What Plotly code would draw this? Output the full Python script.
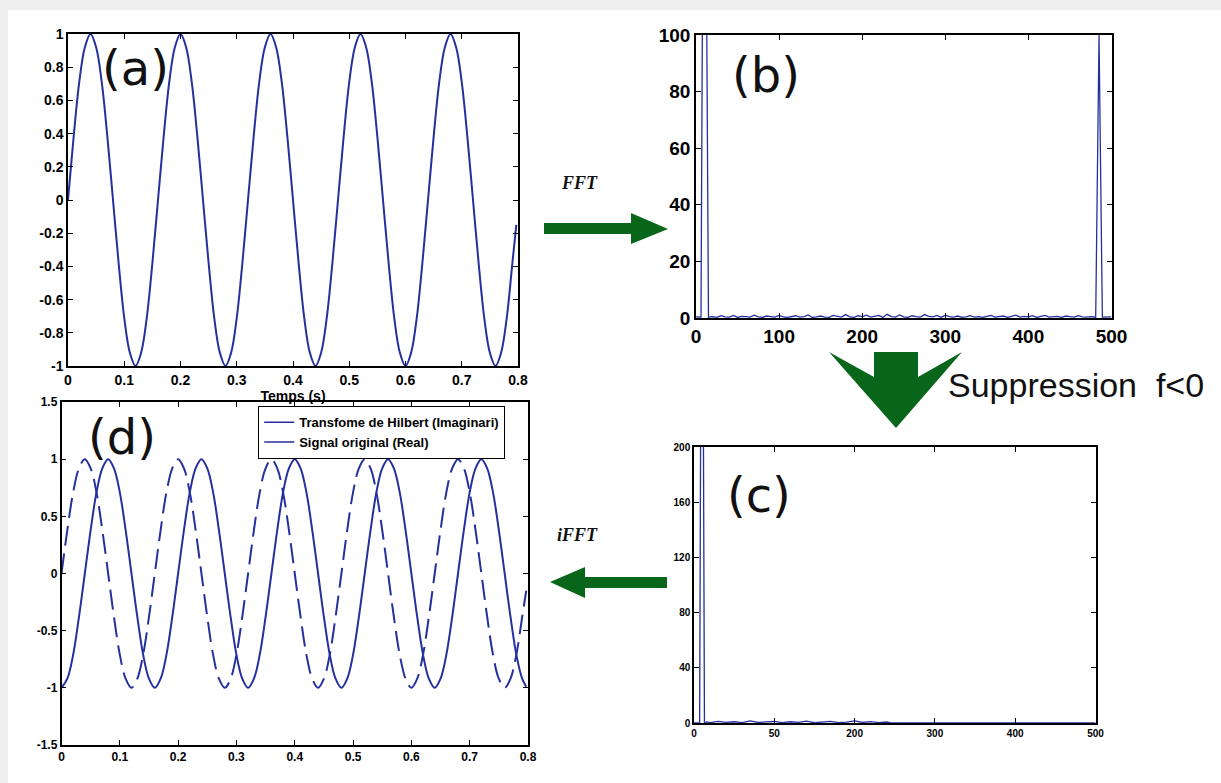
import plotly.graph_objects as go

W, H = 1221, 783

def px(x):
    return x / W

def py(y):
    return 1 - y / H

# ---------------- data ----------------
# time grid (s)
t = [0.00, 0.01, 0.02, 0.03, 0.04, 0.05, 0.06, 0.07, 0.08, 0.09,
     0.10, 0.11, 0.12, 0.13, 0.14, 0.15, 0.16, 0.17, 0.18, 0.19,
     0.20, 0.21, 0.22, 0.23, 0.24, 0.25, 0.26, 0.27, 0.28, 0.29,
     0.30, 0.31, 0.32, 0.33, 0.34, 0.35, 0.36, 0.37, 0.38, 0.39,
     0.40, 0.41, 0.42, 0.43, 0.44, 0.45, 0.46, 0.47, 0.48, 0.49,
     0.50, 0.51, 0.52, 0.53, 0.54, 0.55, 0.56, 0.57, 0.58, 0.59,
     0.60, 0.61, 0.62, 0.63, 0.64, 0.65, 0.66, 0.67, 0.68, 0.69,
     0.70, 0.71, 0.72, 0.73, 0.74, 0.75, 0.76, 0.77, 0.78, 0.79, 0.797]

# (a) original signal
signal_a = [0, 0.38, 0.71, 0.92, 1, 0.92, 0.71, 0.38, 0, -0.38, -0.71, -0.92, -1, -0.92, -0.71, -0.38,
            0, 0.38, 0.71, 0.92, 1, 0.92, 0.71, 0.38, 0, -0.38, -0.71, -0.92, -1, -0.92, -0.71, -0.38,
            0, 0.38, 0.71, 0.92, 1, 0.92, 0.71, 0.38, 0, -0.38, -0.71, -0.92, -1, -0.92, -0.71, -0.38,
            0, 0.38, 0.71, 0.92, 1, 0.92, 0.71, 0.38, 0, -0.38, -0.71, -0.92, -1, -0.92, -0.71, -0.38,
            0, 0.38, 0.71, 0.92, 1, 0.92, 0.71, 0.38, 0, -0.38, -0.71, -0.92, -1, -0.92, -0.71, -0.38,
            -0.15]

# (d) Hilbert transform (imaginary part) and original (real part)
hilbert_d = [-1, -0.92, -0.71, -0.38, 0, 0.38, 0.71, 0.92, 1, 0.92, 0.71, 0.38, 0, -0.38, -0.71, -0.92,
             -1, -0.92, -0.71, -0.38, 0, 0.38, 0.71, 0.92, 1, 0.92, 0.71, 0.38, 0, -0.38, -0.71, -0.92,
             -1, -0.92, -0.71, -0.38, 0, 0.38, 0.71, 0.92, 1, 0.92, 0.71, 0.38, 0, -0.38, -0.71, -0.92,
             -1, -0.92, -0.71, -0.38, 0, 0.38, 0.71, 0.92, 1, 0.92, 0.71, 0.38, 0, -0.38, -0.71, -0.92,
             -1, -0.92, -0.71, -0.38, 0, 0.38, 0.71, 0.92, 1, 0.92, 0.71, 0.38, 0, -0.38, -0.71, -0.92,
             -0.99]
real_d = signal_a

# (b) FFT magnitude
fft_head_x = [0, 3, 6, 10, 15]
fft_head_y = [0.4, 0.4, 0.3, 250, 0.3]
fft_noise_x = list(range(20, 480, 5))          # 20 ... 475 (92 samples)
fft_noise_y = [0.5, 0.2, 0.8, 0.4, 0.3, 0.9, 0.2, 0.6, 0.5, 0.3,
               1.0, 0.4, 0.2, 0.7, 0.5, 0.3, 0.9, 0.4, 0.2, 0.6,
               0.8, 0.3, 0.5, 1.1, 0.2, 0.4, 0.7, 0.3, 0.2, 0.9,
               0.5, 0.3, 1.2, 0.4, 0.2, 0.8, 0.5, 1.0, 0.3, 0.6,
               0.9, 0.2, 1.3, 0.5, 0.3, 1.1, 0.4, 0.2, 0.8, 0.5,
               0.3, 1.2, 0.6, 0.4, 0.9, 0.2, 1.0, 0.5, 0.3, 0.7,
               0.2, 0.4, 0.8, 0.3, 0.5, 0.2, 0.6, 0.9, 0.3, 0.4,
               0.7, 0.2, 0.5, 1.0, 0.3, 0.6, 0.4, 0.8, 0.2, 0.5,
               0.9, 0.3, 0.4, 0.6, 0.2, 0.7, 0.5, 0.3, 0.8, 0.4,
               0.3, 0.5]
fft_tail_x = [481, 485, 489, 493, 497, 500]
fft_tail_y = [0.3, 100, 0.3, 0.4, 0.3, 0.4]
fft_x = fft_head_x + fft_noise_x + fft_tail_x
fft_y = fft_head_y + fft_noise_y + fft_tail_y

# (c) FFT after suppression of negative frequencies
sup_x = [0, 4, 7, 10, 13, 16, 20, 30, 40, 50, 60, 70, 80, 90, 100, 110, 120, 130, 140, 150,
         160, 170, 180, 190, 200, 210, 220, 230, 240, 245, 300, 400, 500]
sup_y = [0, 0, 0, 500, 0, 0.8, 0.3, 1.2, 0.5, 0.9, 0.3, 1.5, 0.4, 0.8, 1.1, 0.3, 0.9, 0.5, 1.4,
         0.2, 0.8, 1.2, 0.3, 0.6, 1.5, 0.4, 1.0, 0.3, 0.7, 0, 0, 0, 0]

# tick values / labels
a_xticks = [0, 0.1, 0.2, 0.3, 0.4, 0.5, 0.6, 0.7, 0.8]
a_xlabels = ["0", "0.1", "0.2", "0.3", "0.4", "0.5", "0.6", "0.7", "0.8"]
a_yticks = [-1, -0.8, -0.6, -0.4, -0.2, 0, 0.2, 0.4, 0.6, 0.8, 1]
a_ylabels = ["-1", "-0.8", "-0.6", "-0.4", "-0.2", "0", "0.2", "0.4", "0.6", "0.8", "1"]
b_xticks = [0, 100, 200, 300, 400, 500]
b_xlabels = ["0", "100", "200", "300", "400", "500"]
b_yticks = [0, 20, 40, 60, 80, 100]
c_xticks = [0, 100, 200, 300, 400, 500]
c_xlabels = ["0", "50", "200", "300", "400", "500"]
c_yticks = [0, 40, 80, 120, 160, 200]
d_yticks = [-1.5, -1, -0.5, 0, 0.5, 1, 1.5]
d_ylabels = ["-1.5", "-1", "-0.5", "0", "0.5", "1", "1.5"]

BLUE = "#24309e"
GREEN = "#08661a"

fig = go.Figure()

fig.add_trace(go.Scatter(x=t, y=signal_a, mode="lines", line=dict(color=BLUE, width=2, shape="spline"),
                         xaxis="x", yaxis="y", showlegend=False))
fig.add_trace(go.Scatter(x=fft_x, y=fft_y, mode="lines", line=dict(color=BLUE, width=1.3),
                         xaxis="x2", yaxis="y2", showlegend=False))
fig.add_trace(go.Scatter(x=sup_x, y=sup_y, mode="lines", line=dict(color=BLUE, width=1.3),
                         xaxis="x3", yaxis="y3", showlegend=False))
fig.add_trace(go.Scatter(x=t, y=real_d, mode="lines",
                         line=dict(color=BLUE, width=2, shape="spline", dash="20px,8px"),
                         xaxis="x4", yaxis="y4", showlegend=False))
fig.add_trace(go.Scatter(x=t, y=hilbert_d, mode="lines", line=dict(color=BLUE, width=2, shape="spline"),
                         xaxis="x4", yaxis="y4", showlegend=False))
# legend entries (solid samples as in the original legend)
fig.add_trace(go.Scatter(x=[None], y=[None], mode="lines", line=dict(color=BLUE, width=1.5),
                         name="Transfome de Hilbert (Imaginari)", xaxis="x4", yaxis="y4"))
fig.add_trace(go.Scatter(x=[None], y=[None], mode="lines", line=dict(color=BLUE, width=1.5),
                         name="Signal original (Real)", xaxis="x4", yaxis="y4"))

tickfont = lambda s: dict(family="Liberation Sans, Arial", size=s, color="black", weight="bold")

def ax(domain, rng, tv, tt, size, anchor):
    d = dict(domain=domain, range=rng, tickvals=tv, ticks="inside", ticklen=5, tickwidth=1,
             tickcolor="black", showline=True, linecolor="black", linewidth=1.5, mirror="ticks",
             showgrid=False, zeroline=False, tickfont=tickfont(size), anchor=anchor,
             automargin=False, fixedrange=True)
    if tt is not None:
        d["ticktext"] = tt
    return d

fig.update_layout(
    width=W, height=H, autosize=False, margin=dict(l=0, r=0, t=0, b=0, pad=0),
    paper_bgcolor="#efefef", plot_bgcolor="white",
    xaxis=ax([px(68), px(518)], [0, 0.8], a_xticks, a_xlabels, 14, "y"),
    yaxis=ax([py(366), py(34)], [-1, 1], a_yticks, a_ylabels, 14, "x"),
    xaxis2=ax([px(696), px(1111.5)], [0, 500], b_xticks, b_xlabels, 19, "y2"),
    yaxis2=ax([py(318), py(35)], [0, 100], b_yticks, None, 19, "x2"),
    xaxis3=ax([px(694), px(1095.5)], [0, 500], c_xticks, c_xlabels, 10, "y3"),
    yaxis3=ax([py(723), py(447)], [0, 200], c_yticks, None, 10, "x3"),
    xaxis4=ax([px(61.5), px(528)], [0, 0.8], a_xticks, a_xlabels, 12, "y4"),
    yaxis4=ax([py(745), py(402)], [-1.5, 1.5], d_yticks, d_ylabels, 12, "x4"),
    legend=dict(x=px(258), y=py(406), xanchor="left", yanchor="top", bgcolor="white",
                bordercolor="black", borderwidth=1.2, itemwidth=30, tracegroupgap=0,
                font=dict(family="Liberation Sans, Arial", size=13, color="black", weight="bold")),
)
fig.layout.xaxis.title = dict(text="Temps (s)", standoff=2,
                              font=dict(family="Liberation Sans, Arial", size=14, color="black", weight="bold"))

shapes = [dict(type="rect", xref="paper", yref="paper", x0=px(8), x1=1, y0=0, y1=py(10),
               fillcolor="white", line=dict(width=0), layer="below")]

def poly(points):
    path = "M " + " L ".join(f"{px(x)},{py(y)}" for x, y in points) + " Z"
    return dict(type="path", xref="paper", yref="paper", path=path, fillcolor=GREEN,
                line=dict(width=0), layer="above")

shapes.append(poly([(544, 223), (631, 223), (631, 213), (668, 229), (631, 244), (631, 234), (544, 234)]))
shapes.append(poly([(829, 352), (874, 377), (874, 352), (918, 352), (918, 377), (962, 352), (896, 428)]))
shapes.append(poly([(667, 577), (585, 577), (585, 567), (550, 582), (585, 598), (585, 588), (667, 588)]))
fig.update_layout(shapes=shapes)

def note(text, x, y, size, family="DejaVu Sans", **kw):
    return dict(text=text, x=px(x), y=py(y), xref="paper", yref="paper", showarrow=False,
                xanchor="center", yanchor="middle", font=dict(family=family, size=size, color="#111"), **kw)

annotations = [
    note("(a)", 135, 68, 48),
    note("(b)", 766, 75, 48),
    note("(c)", 759, 495, 48),
    note("(d)", 122, 437, 48),
    note("<b><i>FFT</i></b>", 579, 183, 18, family="Liberation Serif, Times New Roman"),
    note("<b><i>iFFT</i></b>", 577, 535, 18, family="Liberation Serif, Times New Roman"),
    note("Suppression  f&lt;0", 1076, 385, 34, family="Liberation Sans, Arial"),
]
fig.update_layout(annotations=annotations)

fig.write_html("out.html", config={"displayModeBar": False, "responsive": False},
               post_script="document.body.style.margin='0';document.body.style.overflow='hidden';")
